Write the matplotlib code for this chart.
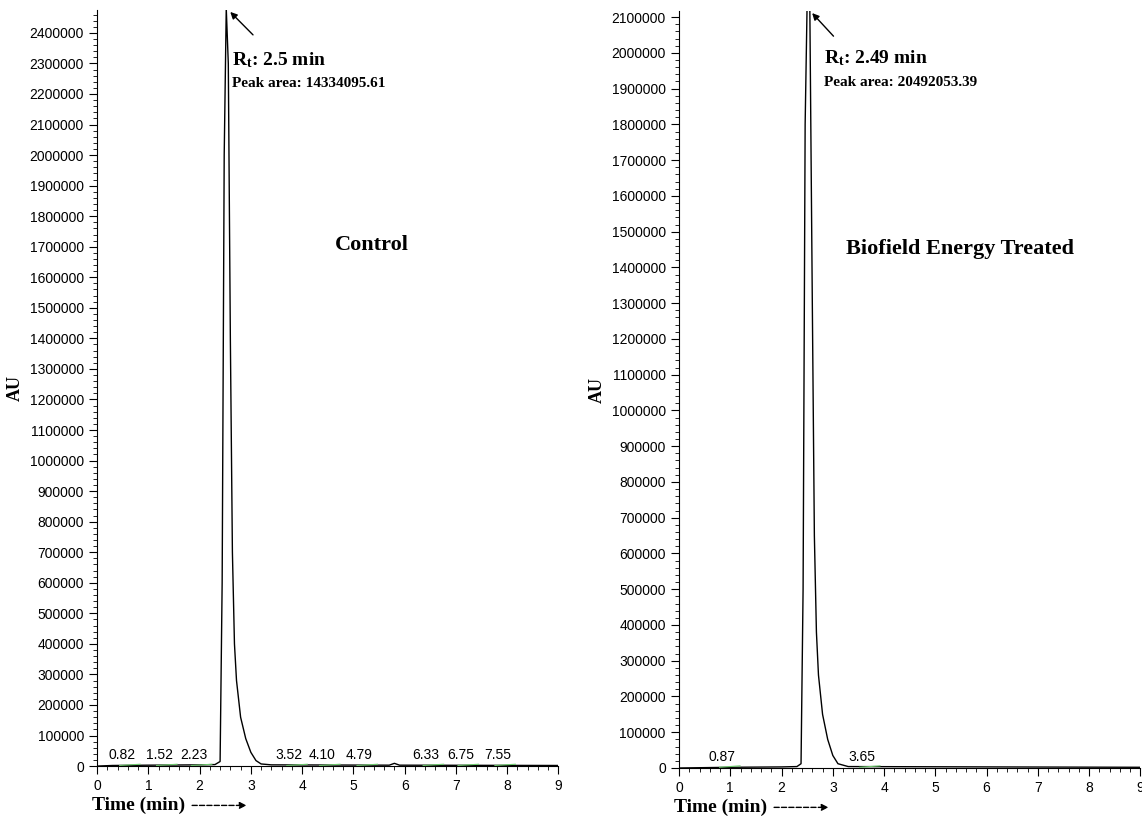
import matplotlib.pyplot as plt
from matplotlib.ticker import MultipleLocator, FuncFormatter

# chromatogram traces (time in min, signal in AU)
ctrl_t = [0, 0.3, 1.0, 2.0, 2.3, 2.4, 2.44, 2.48, 2.52, 2.56, 2.6, 2.64, 2.68, 2.72, 2.8, 2.9, 3.0, 3.1, 3.2, 3.4, 5.7, 5.8, 5.9, 9.0]
ctrl_y = [0, 2000, 3000, 4000, 5000, 15000, 600000, 2000000, 2480000, 2300000, 1400000, 700000, 400000, 280000, 160000, 90000, 45000, 18000, 7000, 4000, 3000, 9000, 3000, 2000]
trt_t = [0, 1.0, 2.0, 2.3, 2.38, 2.42, 2.46, 2.5, 2.55, 2.6, 2.64, 2.68, 2.72, 2.8, 2.9, 3.0, 3.1, 3.3, 9.0]
trt_y = [0, 2000, 3000, 4000, 12000, 500000, 1800000, 2150000, 2150000, 1300000, 650000, 380000, 260000, 150000, 80000, 35000, 12000, 4000, 2000]

ctrl_labels = ['0.82', '1.52', '2.23', '3.52', '4.10', '4.79', '6.33', '6.75', '7.55']
ctrl_label_x = [0.49, 1.21, 1.89, 3.75, 4.39, 5.12, 6.41, 7.09, 7.81]
trt_labels = ['0.87', '3.65']
trt_label_x = [0.84, 3.57]

serif = ['Liberation Serif', 'DejaVu Serif']
sans = ['Liberation Sans', 'DejaVu Sans']
plt.rcParams['mathtext.fontset'] = 'custom'
plt.rcParams['mathtext.rm'] = 'Liberation Serif'
plt.rcParams['mathtext.bf'] = 'Liberation Serif:bold'

fig = plt.figure(figsize=(11.42, 8.3), dpi=100)
ax1 = fig.add_axes([0.085, 0.077, 0.404, 0.911])
ax2 = fig.add_axes([0.5946, 0.0747, 0.404, 0.912])


def style(ax, ytop):
    ax.set_xlim(0, 9)
    ax.set_ylim(0, ytop)
    for s in ['top', 'right']:
        ax.spines[s].set_visible(False)
    ax.xaxis.set_major_locator(MultipleLocator(1))
    ax.xaxis.set_minor_locator(MultipleLocator(0.2))
    ax.yaxis.set_major_locator(MultipleLocator(100000))
    ax.yaxis.set_minor_locator(MultipleLocator(20000))
    ax.yaxis.set_major_formatter(FuncFormatter(lambda v, p: '%d' % round(v)))
    ax.tick_params(which='major', length=6, labelsize=10)
    ax.tick_params(which='minor', length=3)
    for lb in ax.get_xticklabels() + ax.get_yticklabels():
        lb.set_family(sans)
    ax.set_ylabel('AU', family=serif, fontweight='bold', fontsize=13, labelpad=4)
    ax.text(-0.01, -0.052, 'Time (min)', transform=ax.transAxes, family=serif,
            fontweight='bold', fontsize=14, va='center', ha='left')
    ax.annotate('', xy=(0.33, -0.052), xytext=(0.2, -0.052), xycoords='axes fraction',
                arrowprops=dict(arrowstyle='-|>', ls='--', color='black', lw=1))


def peaks(ax, labels, xs):
    for lab, x in zip(labels, xs):
        ax.text(x, 12000, lab, ha='center', va='bottom', fontsize=10, family=sans)
        ax.plot([x - 0.05, x + 0.35], [2000, 6000], color='#6cc86c', lw=0.8)


ax1.plot(ctrl_t, ctrl_y, color='black', lw=1)
style(ax1, 2475000)
peaks(ax1, ctrl_labels, ctrl_label_x)
ax1.annotate('', xy=(2.56, 2475000), xytext=(3.08, 2387000),
             arrowprops=dict(arrowstyle='-|>', color='black', lw=1))
ax1.text(2.64, 2311000, r'$\mathbf{R_t}$: 2.5 min', family=serif, fontweight='bold', fontsize=14, va='center')
ax1.text(2.64, 2233000, 'Peak area: 14334095.61', family=serif, fontweight='bold', fontsize=11, va='center')
ax1.text(5.35, 1706000, 'Control', family=serif, fontweight='bold', fontsize=16, ha='center', va='center')

ax2.plot(trt_t, trt_y, color='black', lw=1)
style(ax2, 2117000)
peaks(ax2, trt_labels, trt_label_x)
ax2.annotate('', xy=(2.56, 2117000), xytext=(3.05, 2041000),
             arrowprops=dict(arrowstyle='-|>', color='black', lw=1))
ax2.text(2.83, 1986000, r'$\mathbf{R_t}$: 2.49 min', family=serif, fontweight='bold', fontsize=14, va='center')
ax2.text(2.83, 1916000, 'Peak area: 20492053.39', family=serif, fontweight='bold', fontsize=11, va='center')
ax2.text(5.49, 1451000, 'Biofield Energy Treated', family=serif, fontweight='bold', fontsize=16, ha='center', va='center')

fig.savefig('out.png', dpi=100)
